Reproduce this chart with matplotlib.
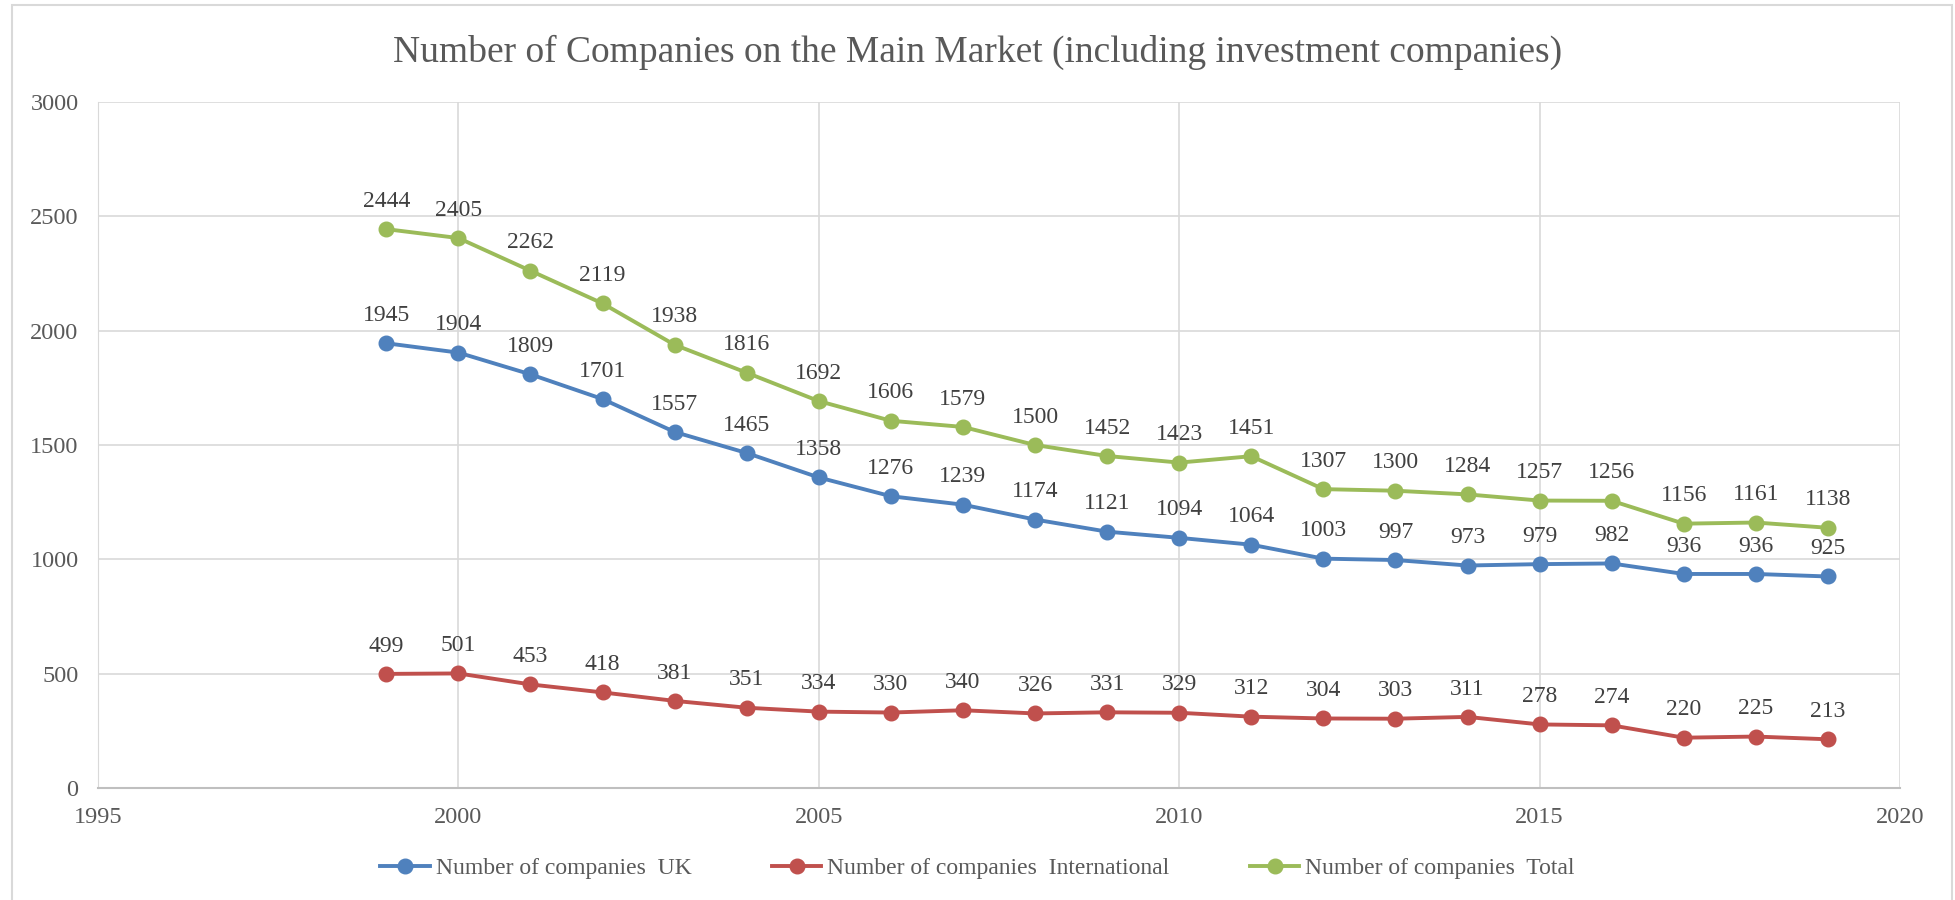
import matplotlib
matplotlib.use("Agg")
import matplotlib.pyplot as plt
from matplotlib.patches import Rectangle

years = list(range(1999, 2020))
uk = [1945, 1904, 1809, 1701, 1557, 1465, 1358, 1276, 1239, 1174, 1121,
      1094, 1064, 1003, 997, 973, 979, 982, 936, 936, 925]
intl = [499, 501, 453, 418, 381, 351, 334, 330, 340, 326, 331,
        329, 312, 304, 303, 311, 278, 274, 220, 225, 213]
total = [2444, 2405, 2262, 2119, 1938, 1816, 1692, 1606, 1579, 1500, 1452,
         1423, 1451, 1307, 1300, 1284, 1257, 1256, 1156, 1161, 1138]
series_names = ["Number of companies  UK", "Number of companies  International",
                "Number of companies  Total"]
x_ticks = [1995, 2000, 2005, 2010, 2015, 2020]
y_ticks = [0, 500, 1000, 1500, 2000, 2500, 3000]

plt.rcParams['font.family'] = ['Liberation Serif', 'DejaVu Serif']
txt = '#595959'

fig = plt.figure(figsize=(19.55, 9), dpi=100)
fig.patches.append(Rectangle((12 / 1955, -0.05), 1940 / 1955, 1.0 - 5 / 900 + 0.05,
                             transform=fig.transFigure, fill=False,
                             edgecolor='#D9D9D9', linewidth=1.5))
ax = fig.add_axes([98 / 1955, 1 - 788 / 900, (1900 - 98) / 1955, (788 - 102) / 900])

colors = ['#4F81BD', '#C0504D', '#9BBB59']
for vals, name, c in zip([uk, intl, total], series_names, colors):
    ax.plot(years, vals, color=c, linewidth=2.8, marker='o', markersize=10.5,
            label=name, zorder=3)
    for x, v in zip(years, vals):
        ax.annotate(str(v), (x, v), xytext=(0, 12.5), textcoords='offset points',
                    ha='center', va='bottom', fontsize=17, color='#404040')

ax.set_xlim(1995, 2020)
ax.set_ylim(0, 3000)
ax.set_xticks(x_ticks)
ax.set_yticks(y_ticks)
ax.grid(True, color='#D9D9D9', linewidth=1.2)
ax.set_axisbelow(True)
for s in ['top', 'right']:
    ax.spines[s].set_visible(False)
ax.spines['left'].set_color('#D9D9D9')
ax.spines['bottom'].set_color('#BFBFBF')
ax.spines['bottom'].set_linewidth(1.5)
ax.tick_params(length=0, labelsize=17.5, colors=txt)
ax.tick_params(axis='x', pad=14)
ax.tick_params(axis='y', pad=14)

fig.text(0.5, 1 - 52 / 900, "Number of Companies on the Main Market (including investment companies)",
         ha='center', va='center', fontsize=27, color=txt)

fig.legend(loc='center', bbox_to_anchor=(0.5, 1 - 868 / 900), ncol=3, frameon=False,
           fontsize=17, labelcolor=txt, handlelength=2.1, handletextpad=0.25,
           columnspacing=3.4)

fig.savefig('out.png', dpi=100)
